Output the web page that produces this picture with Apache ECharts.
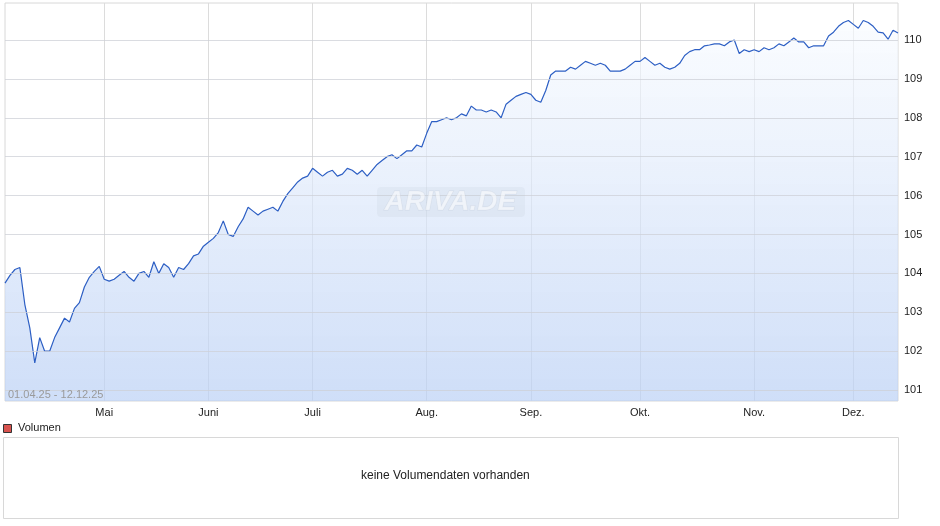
<!DOCTYPE html>
<html><head><meta charset="utf-8">
<script src="https://cdn.jsdelivr.net/npm/echarts@6/dist/echarts.min.js"></script>
<style>html,body{margin:0;padding:0;background:#fff}#c{width:940px;height:526px}</style>
</head><body><div id="c"></div>
<script>
// Kursverlauf 01.04.25 - 12.12.25 (Handelstage)
var apr = [103.75,103.95,104.1,104.15,103.2,102.6,101.7,102.35,102.0,102.0,102.35,102.6,102.85,102.75,103.1,103.25,103.65,103.9,104.05,104.18]
var mai = [103.85,103.8,103.85,103.95,104.05,103.9,103.8,104.0,104.05,103.9,104.3,104.0,104.25,104.15,103.9,104.15,104.1,104.25,104.45,104.5,104.7]
var jun = [104.8,104.9,105.05,105.35,105.0,104.95,105.2,105.4,105.7,105.6,105.5,105.6,105.65,105.7,105.6,105.85,106.05,106.2,106.35,106.45,106.5]
var jul = [106.7,106.6,106.5,106.6,106.65,106.5,106.55,106.7,106.65,106.55,106.65,106.5,106.65,106.8,106.9,107.0,107.05,106.95,107.05,107.15,107.15,107.3,107.25]
var aug = [107.6,107.9,107.9,107.95,108.0,107.95,108.0,108.1,108.05,108.3,108.2,108.2,108.15,108.2,108.15,108.0,108.35,108.45,108.55,108.6,108.65]
var sep = [108.6,108.45,108.4,108.7,109.1,109.2,109.2,109.2,109.3,109.25,109.35,109.45,109.4,109.35,109.4,109.35,109.2,109.2,109.2,109.25,109.35,109.45]
var okt = [109.45,109.55,109.45,109.35,109.4,109.3,109.25,109.3,109.4,109.6,109.7,109.75,109.75,109.85,109.87,109.9,109.9,109.85,109.95,110.0,109.65,109.75,109.7]
var nov = [109.75,109.7,109.8,109.75,109.8,109.9,109.85,109.95,110.05,109.95,109.95,109.8,109.85,109.85,109.85,110.1,110.2,110.35,110.45,110.5]
var dez = [110.4,110.3,110.5,110.45,110.35,110.2,110.18,110.02,110.25,110.18]
var monthNames = ['Jan','Feb','März','Apr','Mai','Juni','Juli','Aug.','Sep.','Okt.','Nov.','Dez.']
var yTicks = [101,102,103,104,105,106,107,108,109,110]
var holidays = ['2025-04-18','2025-04-21','2025-05-01']

var values = [].concat(apr, mai, jun, jul, aug, sep, okt, nov, dez)
var dates = []
var d = new Date(Date.UTC(2025, 3, 1))
var end = new Date(Date.UTC(2025, 11, 12))
while (d <= end) {
  var s = d.toISOString().slice(0, 10)
  var wd = d.getUTCDay()
  if (wd !== 0 && wd !== 6 && holidays.indexOf(s) < 0) dates.push(s)
  d.setUTCDate(d.getUTCDate() + 1)
}
// erster Handelstag eines Monats (außer April)
function isMonthStart(i) {
  return i > 0 && dates[i].slice(5, 7) !== dates[i - 1].slice(5, 7)
}

var chart = echarts.init(document.getElementById('c'))
chart.setOption({
  animation: false,
  grid: { left: 5, right: 42, top: 3, bottom: 125, show: true, borderColor: '#d8d8d8', borderWidth: 1 },
  xAxis: {
    type: 'category', data: dates, boundaryGap: false,
    axisLine: { show: false }, axisTick: { show: false },
    axisLabel: {
      interval: function (i) { return isMonthStart(i) },
      formatter: function (v) { return monthNames[parseInt(v.slice(5, 7), 10) - 1] },
      color: '#222', fontSize: 11, fontFamily: 'Arial', margin: 6
    },
    splitLine: { show: true, interval: function (i) { return isMonthStart(i) }, lineStyle: { color: '#dcdcdc' } }
  },
  yAxis: {
    type: 'value', position: 'right', min: 100.72, max: 110.95,
    axisLine: { show: false }, axisTick: { show: false }, splitLine: { show: false },
    axisLabel: { customValues: yTicks, color: '#222', fontSize: 11, fontFamily: 'Arial', margin: 6 }
  },
  graphic: [
    { type: 'rect', left: 377, top: 187, z: 10, shape: { width: 148, height: 30, r: 4 }, style: { fill: 'rgba(190,198,212,0.18)' } },
    { type: 'text', left: 384, top: 188, z: 10, style: { text: 'ARIVA.DE', fontSize: 28, fontWeight: 'bold', fontStyle: 'italic', fontFamily: 'Arial', fill: 'rgba(255,255,255,0.55)', stroke: 'rgba(190,198,212,0.35)', lineWidth: 1 } },
    { type: 'text', left: 8, top: 389, z: 10, style: { text: '01.04.25 - 12.12.25', fontSize: 11, fontFamily: 'Arial', fill: '#9a9a9a' } },
    { type: 'rect', left: 3, top: 424, shape: { width: 8, height: 8 }, style: { fill: '#d9534f', stroke: '#333', lineWidth: 1 } },
    { type: 'text', left: 18, top: 422, style: { text: 'Volumen', fontSize: 11, fontFamily: 'Arial', fill: '#222' } },
    { type: 'rect', left: 3, top: 437, shape: { width: 895, height: 81 }, style: { fill: '#fff', stroke: '#d8d8d8', lineWidth: 1 } },
    { type: 'text', left: 361, top: 470, style: { text: 'keine Volumendaten vorhanden', fontSize: 12, fontFamily: 'Arial', fill: '#222' } }
  ],
  series: [{
    type: 'line', data: values, symbol: 'none',
    lineStyle: { color: '#2d5fc4', width: 1.2 },
    areaStyle: {
      origin: 'start',
      color: new echarts.graphic.LinearGradient(0, 0, 0, 1, [
        { offset: 0, color: 'rgba(248,251,255,0.9)' },
        { offset: 1, color: 'rgba(186,208,245,1)' }
      ])
    },
    markLine: {
      silent: true, symbol: 'none', label: { show: false },
      lineStyle: { color: 'rgba(205,208,215,0.75)', type: 'solid', width: 1 },
      data: yTicks.map(function (t) { return { yAxis: t } })
    }
  }]
})
</script>
</body></html>
